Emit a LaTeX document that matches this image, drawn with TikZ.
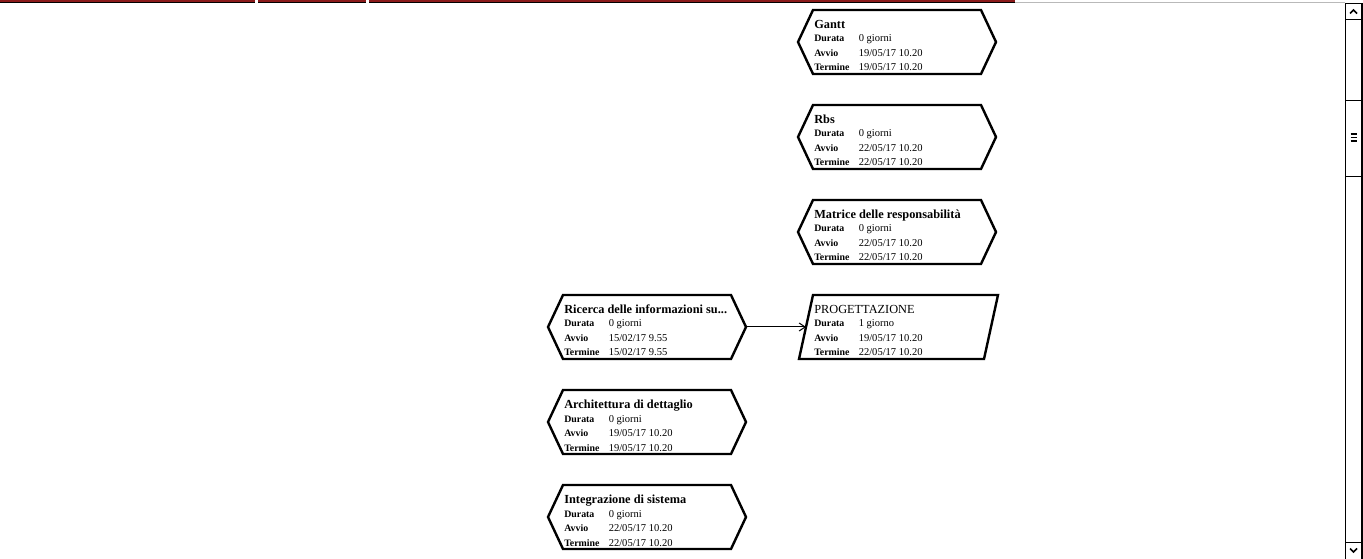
\documentclass[tikz,border=0pt]{standalone}
\usepackage{fontspec}
\setmainfont{Liberation Serif}
\usetikzlibrary{arrows.meta,calc}
\definecolor{barred}{HTML}{8B1A1A}
\tikzset{
  x=0.75pt, y=-0.75pt,
  outline/.style={line width=1.8pt, line join=miter},
  area/.style={draw=none, inner sep=0pt, minimum width=148.5pt, minimum height=48pt},
  ttl/.style={anchor=base west, inner sep=0pt, font=\fontsize{9.25}{10}\selectfont\bfseries},
  ttlplain/.style={anchor=base west, inner sep=0pt, font=\fontsize{9.25}{10}\selectfont},
  lab/.style={anchor=base west, inner sep=0pt, font=\fontsize{7.4}{8}\selectfont\bfseries},
  val/.style={anchor=base west, inner sep=0pt, font=\fontsize{7.9}{8}\selectfont},
  link/.style={line width=0.75pt, -{Straight Barb[length=4.5pt, width=6pt]}},
  sbline/.style={line width=0.75pt},
}
% the three rows under each task title
\newcommand\taskrows[6]{%
  \node[lab] (#1-l1) at ({#2+16},{#3+32}) {Durata};
  \node[val] (#1-v1) at ({#2+60.5},{#3+32}) {#4};
  \node[lab] (#1-l2) at ({#2+16},{#3+46.5}) {Avvio};
  \node[val] (#1-v2) at ({#2+60.5},{#3+46.5}) {#5};
  \node[lab] (#1-l3) at ({#2+16},{#3+61}) {Termine};
  \node[val] (#1-v3) at ({#2+60.5},{#3+61}) {#6};
}
% milestone: hexagonal outline
\newcommand\hexbox[7]{%
  \node[area] (#1) at ({#2+99},{#3+32}) {};
  \draw[outline] ({#2},{#3+32}) -- ({#2+15},{#3}) -- ({#2+183},{#3})
    -- ({#2+198},{#3+32}) -- ({#2+183},{#3+64}) -- ({#2+15},{#3+64}) -- cycle;
  \node[ttl] (#1-t) at ({#2+16},{#3+18.5}) {#4};
  \taskrows{#1}{#2}{#3}{#5}{#6}{#7}
}
\begin{document}
\begin{tikzpicture}
\useasboundingbox (0,0) rectangle (1363,559);
\fill[white] (0,0) rectangle (1363,559);

% window top strip
\foreach \a/\b in {0/255, 258/366, 369/1015} {
  \fill[barred] (\a,0) rectangle (\b,1.9);
  \fill[black] (\a,1.9) rectangle (\b,2.8);
}
\draw[gray!55, line width=0.75pt] (1015,2.3) -- (1345,2.3);

% vertical scroll bar
\draw[sbline] (1345.5,3) -- (1345.5,559);
\draw[sbline] (1345,3.5) -- (1362,3.5);
\fill[black] (1361,3) rectangle (1363,559);
\draw[sbline] (1345,19.5) -- (1361,19.5);
\draw[sbline] (1345,100.5) -- (1361,100.5);
\draw[sbline] (1345,176.5) -- (1361,176.5);
\draw[sbline] (1345,542.5) -- (1361,542.5);
\draw[line width=1.1pt] (1350,13.5) -- (1353.5,10) -- (1357,13.5);
\draw[line width=1.1pt] (1350,548.5) -- (1353.5,552) -- (1357,548.5);
\foreach \yy in {134,137.5,141} \draw[line width=1.2pt] (1350.5,\yy) -- (1356.5,\yy);

% right column
\hexbox{gantt}{798}{10}{Gantt}{0 giorni}{19/05/17 10.20}{19/05/17 10.20}
\hexbox{rbs}{798}{105}{Rbs}{0 giorni}{22/05/17 10.20}{22/05/17 10.20}
\hexbox{matrice}{798}{200}{Matrice delle responsabilità}{0 giorni}{22/05/17 10.20}{22/05/17 10.20}

% summary task: parallelogram outline
\node[area] (prog) at (898,327) {};
\draw[outline] (813,295) -- (998,295) -- (984,359) -- (799,359) -- cycle;
\node[ttlplain] (prog-t) at (814,313.5) {PROGETTAZIONE};
\taskrows{prog}{798}{295}{1 giorno}{19/05/17 10.20}{22/05/17 10.20}
\coordinate (prog-in) at (806,327);

% left column
\hexbox{ricerca}{548}{295}{Ricerca delle informazioni su...}{0 giorni}{15/02/17 9.55}{15/02/17 9.55}
\hexbox{arch}{548}{390}{Architettura di dettaglio}{0 giorni}{19/05/17 10.20}{19/05/17 10.20}
\hexbox{integr}{548}{485}{Integrazione di sistema}{0 giorni}{22/05/17 10.20}{22/05/17 10.20}

% dependency
\draw[link] (ricerca.east) -- (prog-in);
\end{tikzpicture}
\end{document}
